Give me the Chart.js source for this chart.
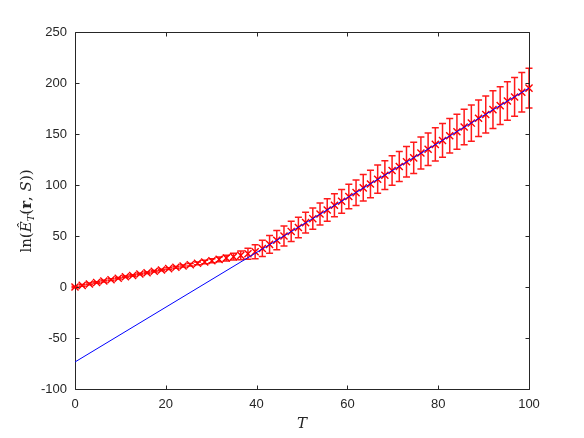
<!DOCTYPE html>
<html>
<head>
<meta charset="utf-8">
<script src="https://cdn.jsdelivr.net/npm/chart.js@4.4.1/dist/chart.umd.min.js"></script>
<style>
  html, body { margin: 0; padding: 0; background: #ffffff; }
  canvas { display: block; }
</style>
</head>
<body>
<canvas id="c" width="584" height="438"></canvas>
<script>
// ---- data ----
const tValues = [0, 1.587, 3.175, 4.762, 6.349, 7.937, 9.524, 11.111, 12.698, 14.286,
  15.873, 17.460, 19.048, 20.635, 22.222, 23.810, 25.397, 26.984, 28.571, 30.159,
  31.746, 33.333, 34.921, 36.508, 38.095, 39.683, 41.270, 42.857, 44.444, 46.032,
  47.619, 49.206, 50.794, 52.381, 53.968, 55.556, 57.143, 58.730, 60.317, 61.905,
  63.492, 65.079, 66.667, 68.254, 69.841, 71.429, 73.016, 74.603, 76.190, 77.778,
  79.365, 80.952, 82.540, 84.127, 85.714, 87.302, 88.889, 90.476, 92.063, 93.651,
  95.238, 96.825, 98.413, 100];
const lnE = [0, 1.6, 3.0, 4.4, 5.8, 7.2, 8.6, 10.0, 11.3, 12.7,
  14.0, 15.4, 16.7, 18.0, 19.3, 20.6, 21.9, 23.2, 24.5, 25.8,
  27.1, 28.4, 29.7, 31.0, 32.6, 34.5, 37.8, 41.8, 45.9, 50.0,
  54.5, 58.4, 63.1, 67.0, 71.6, 75.5, 80.1, 84.0, 88.7, 92.5,
  97.2, 101.0, 105.7, 109.6, 114.2, 118.1, 122.8, 126.6, 131.3, 135.1,
  139.8, 143.7, 148.3, 152.2, 156.8, 160.7, 165.4, 169.2, 173.9, 177.8,
  182.4, 186.3, 190.9, 195.0];
const lnErr = [0.8, 0.8, 0.8, 0.8, 0.8, 0.8, 0.8, 0.8, 0.8, 0.8,
  0.8, 0.8, 0.8, 0.8, 0.8, 1.0, 1.2, 1.4, 1.7, 2.0,
  2.3, 2.8, 3.3, 4.2, 5.5, 6.8, 8.0, 8.8, 9.4, 9.8,
  10.0, 10.0, 10.2, 10.5, 10.8, 11.0, 11.3, 11.7, 12.0, 12.5,
  13.0, 13.4, 13.8, 14.1, 14.4, 14.7, 15.0, 15.3, 15.7, 16.0,
  16.3, 16.6, 16.9, 17.2, 17.4, 17.7, 17.9, 18.1, 18.4, 18.6,
  18.8, 19.0, 19.3, 19.5];
const fitT = [0, 100];
const fitY = [-73.5, 195.0];
const xTicks = [0, 20, 40, 60, 80, 100];
const yTicks = [-100, -50, 0, 50, 100, 150, 200, 250];

const AXIS = '#262626';
const TICKFONT = { family: 'Liberation Sans, Arial, sans-serif', size: 13 };

const pointData = tValues.map((t, i) => ({ x: t, y: lnE[i] }));
const lineData = fitT.map((t, i) => ({ x: t, y: fitY[i] }));

const errorBarPlugin = {
  id: 'errorBars',
  beforeDatasetsDraw(chart) {
    const ctx = chart.ctx, xs = chart.scales.x, ys = chart.scales.y;
    ctx.save();
    ctx.strokeStyle = '#ff1a1a';
    ctx.lineWidth = 1.5;
    const cap = 3.5;
    tValues.forEach((t, i) => {
      const px = xs.getPixelForValue(t);
      const top = ys.getPixelForValue(lnE[i] + lnErr[i]);
      const bot = ys.getPixelForValue(lnE[i] - lnErr[i]);
      ctx.beginPath();
      ctx.moveTo(px, top); ctx.lineTo(px, bot);
      ctx.moveTo(px - cap, top); ctx.lineTo(px + cap, top);
      ctx.moveTo(px - cap, bot); ctx.lineTo(px + cap, bot);
      ctx.stroke();
    });
    ctx.restore();
  }
};

const framePlugin = {
  id: 'frame',
  beforeDatasetsDraw(chart) {
    const ctx = chart.ctx, a = chart.chartArea, xs = chart.scales.x, ys = chart.scales.y;
    ctx.save();
    ctx.strokeStyle = AXIS;
    ctx.lineWidth = 1;
    const L = Math.round(a.left) + 0.5, R = Math.round(a.right) + 0.5;
    const T = Math.round(a.top) + 0.5, B = Math.round(a.bottom) + 0.5;
    ctx.beginPath();
    ctx.rect(L, T, R - L, B - T);
    ctx.stroke();
    const tl = 4;
    ctx.beginPath();
    xTicks.forEach(v => {
      const px = Math.round(xs.getPixelForValue(v)) + 0.5;
      ctx.moveTo(px, B); ctx.lineTo(px, B - tl);
      ctx.moveTo(px, T); ctx.lineTo(px, T + tl);
    });
    yTicks.forEach(v => {
      const py = Math.round(ys.getPixelForValue(v)) + 0.5;
      ctx.moveTo(L, py); ctx.lineTo(L + tl, py);
      ctx.moveTo(R, py); ctx.lineTo(R - tl, py);
    });
    ctx.stroke();
    ctx.restore();
  },
  afterDraw(chart) {
    const ctx = chart.ctx, a = chart.chartArea;
    ctx.save();
    ctx.fillStyle = AXIS;
    // x title
    ctx.font = 'italic 15px "DejaVu Serif", "Liberation Serif", serif';
    ctx.textAlign = 'center';
    ctx.textBaseline = 'alphabetic';
    ctx.fillText('T', (a.left + a.right) / 2, 428);
    // y title, rotated
    const parts = [
      { t: 'ln(', f: '15px "DejaVu Serif", serif', dy: 0 },
      { t: 'Ê', f: 'italic 15px "DejaVu Serif", serif', dy: 0 },
      { t: 'T', f: 'italic 10px "DejaVu Serif", serif', dy: 3 },
      { t: '(', f: '15px "DejaVu Serif", serif', dy: 0 },
      { t: 'r', f: 'bold 15px "DejaVu Serif", serif', dy: 0 },
      { t: ', ', f: '15px "DejaVu Serif", serif', dy: 0 },
      { t: 'S', f: 'italic 15px "DejaVu Serif", serif', dy: 0 },
      { t: '))', f: '15px "DejaVu Serif", serif', dy: 0 }
    ];
    let total = 0;
    parts.forEach(p => { ctx.font = p.f; p.w = ctx.measureText(p.t).width; total += p.w; });
    ctx.translate(31, 211);
    ctx.rotate(-Math.PI / 2);
    ctx.textAlign = 'left';
    let x = -total / 2;
    parts.forEach(p => { ctx.font = p.f; ctx.fillText(p.t, x, p.dy); x += p.w; });
    ctx.restore();
  }
};

new Chart(document.getElementById('c'), {
  type: 'scatter',
  data: {
    datasets: [
      {
        type: 'line',
        label: 'fit',
        data: lineData,
        borderColor: '#0000ff',
        borderWidth: 1,
        pointRadius: 0,
        fill: false,
        tension: 0,
        clip: false,
        order: 0
      },
      {
        label: 'ln E',
        data: pointData,
        pointStyle: 'crossRot',
        pointRadius: 5,
        borderColor: '#ff0000',
        backgroundColor: '#ff0000',
        pointBorderWidth: 1.4,
        clip: false,
        order: 1
      }
    ]
  },
  options: {
    responsive: false,
    animation: false,
    devicePixelRatio: 1,
    layout: { padding: { left: 0, top: 32, right: 55, bottom: 0 } },
    plugins: { legend: { display: false }, tooltip: { enabled: false } },
    scales: {
      x: {
        type: 'linear', min: 0, max: 100,
        afterFit(s) { s.height = 49; },
        afterBuildTicks(s) { s.ticks = xTicks.map(v => ({ value: v })); },
        grid: { display: false, drawTicks: false },
        border: { display: false },
        ticks: { color: AXIS, font: TICKFONT, padding: 8, maxRotation: 0 }
      },
      y: {
        type: 'linear', min: -100, max: 250,
        afterFit(s) { s.width = 75; },
        afterBuildTicks(s) { s.ticks = yTicks.map(v => ({ value: v })); },
        grid: { display: false, drawTicks: false },
        border: { display: false },
        ticks: { color: AXIS, font: TICKFONT, padding: 8 }
      }
    }
  },
  plugins: [errorBarPlugin, framePlugin]
});
</script>
</body>
</html>
